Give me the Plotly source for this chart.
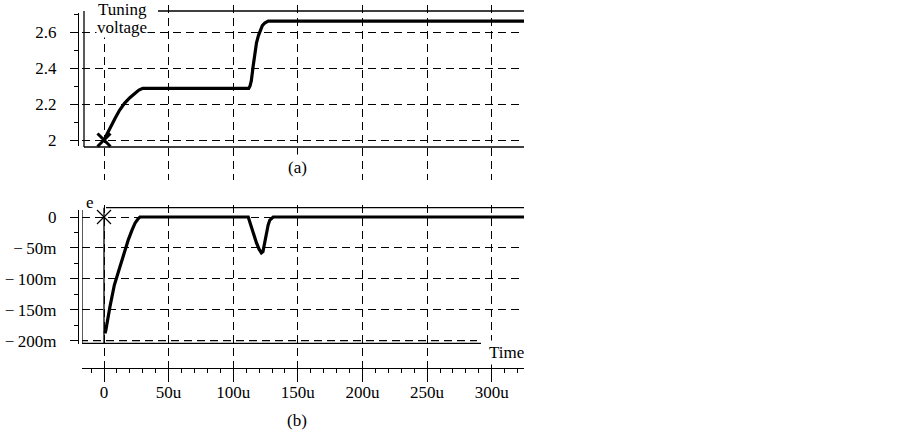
import plotly.graph_objects as go

W, H = 903, 433

time_ticks = [0, 50, 100, 150, 200, 250, 300]
time_labels = ["0", "50u", "100u", "150u", "200u", "250u", "300u"]

volt_ticks = [2.0, 2.2, 2.4, 2.6]
volt_labels = ["2", "2.2", "2.4", "2.6"]
volt_minor = [2.1, 2.3, 2.5, 2.7]

err_ticks = [0, -0.05, -0.1, -0.15, -0.2]
err_labels = ["0", "\u2212\u200950m", "\u2212\u2009100m", "\u2212\u2009150m", "\u2212\u2009200m"]
err_minor = [-0.025, -0.075, -0.125, -0.175]
err_grid = [0, -0.05, -0.1, -0.15]

# (a) tuning voltage vs time (time in u)
time_a = [0, 4, 8.5, 12, 16, 20, 24, 27, 30, 112, 113, 114, 115.4, 117, 118,
          119.5, 120.6, 122.5, 124.4, 127, 325]
volt_a = [2.0, 2.06, 2.12, 2.165, 2.205, 2.235, 2.26, 2.277, 2.287, 2.287, 2.30,
          2.33, 2.41, 2.49, 2.54, 2.58, 2.60, 2.635, 2.65, 2.66, 2.66]

# (b) error signal e vs time
time_b = [0.8, 1.5, 4.6, 8, 12.4, 15.5, 18.8, 21.5, 24, 26, 27.8, 111.6, 112.8,
          114, 115.4, 117, 118, 120, 121.8, 123, 124.5, 125.7, 127, 128.3, 130.9, 325]
err_b = [-0.188, -0.182, -0.145, -0.11, -0.08, -0.058, -0.037, -0.022, -0.01,
         -0.004, 0, 0, -0.008, -0.018, -0.026, -0.036, -0.042, -0.052, -0.058,
         -0.056, -0.04, -0.026, -0.013, -0.005, 0, 0]

FONT = "Liberation Serif"
INK = "black"


def fx(p):
    return p / W


def fy(p):
    return 1 - p / H


def tval(p):
    # pixel column -> time value
    return (p - 104) / 1.2924


def va(p):
    # pixel row -> panel (a) voltage
    return 2.0 + (140 - p) / 180


def vb(p):
    # pixel row -> panel (b) error
    return (217 - p) / 618.5


x_range = [tval(82), tval(524)]
x_dom = [fx(82), fx(524)]
font = dict(family=FONT, size=17, color=INK)

fig = go.Figure()

fig.add_trace(go.Scatter(x=time_a, y=volt_a, mode="lines",
                         line=dict(color=INK, width=3.2), xaxis="x", yaxis="y"))
fig.add_trace(go.Scatter(x=time_a[:1], y=volt_a[:1], mode="markers", cliponaxis=False,
                         marker=dict(symbol="x-thin", size=13, line=dict(width=3, color=INK)),
                         xaxis="x", yaxis="y"))
fig.add_trace(go.Scatter(x=time_b, y=err_b, mode="lines",
                         line=dict(color=INK, width=3.2), xaxis="x2", yaxis="y2"))
fig.add_trace(go.Scatter(x=[0], y=[0], mode="markers", cliponaxis=False,
                         marker=dict(symbol="x-thin", size=14, line=dict(width=1.2, color=INK)),
                         xaxis="x2", yaxis="y2"))
# empty traces so the visible tick axes get their own subplots
fig.add_trace(go.Scatter(x=[], y=[], xaxis="x3", yaxis="y3"))
fig.add_trace(go.Scatter(x=[], y=[], xaxis="x4", yaxis="y4"))

grid = dict(showgrid=True, griddash="8px,5px", gridcolor=INK, gridwidth=1.3,
            zeroline=False, showline=False, ticks="", showticklabels=False,
            automargin=False)
bare = dict(showgrid=False, zeroline=False, showline=False, ticks="", showticklabels=False,
            automargin=False)
tick_axis = dict(showline=True, linecolor=INK, linewidth=1.3, ticks="outside", ticklen=8,
                 tickwidth=1.3, tickcolor=INK, showgrid=False, zeroline=False,
                 tickfont=font, automargin=False)
minor = dict(ticks="outside", ticklen=4, tickwidth=1.3, tickcolor=INK)

fig.update_layout(
    template="none",
    width=W, height=H, autosize=False,
    margin=dict(l=0, r=0, t=0, b=0, pad=0),
    paper_bgcolor="white", plot_bgcolor="rgba(0,0,0,0)",
    showlegend=False,
    font=font,
    # grid subplots
    xaxis=dict(domain=x_dom, range=x_range, anchor="y", tickvals=time_ticks, **grid),
    yaxis=dict(domain=[fy(180), fy(5)], range=[va(180), va(5)], anchor="x",
               tickvals=volt_ticks, **grid),
    xaxis2=dict(domain=x_dom, range=x_range, anchor="y2", tickvals=time_ticks, **grid),
    yaxis2=dict(domain=[fy(385), fy(205)], range=[vb(385), vb(205)], anchor="x2",
                tickvals=err_grid, **grid),
    # visible tick axes
    xaxis3=dict(domain=x_dom, range=x_range, anchor="y3", **bare),
    yaxis3=dict(domain=[fy(146), fy(13)], range=[va(146), va(13)], anchor="free",
                position=fx(78), side="left", tickvals=volt_ticks, ticktext=volt_labels,
                ticklabelstandoff=10, minor=dict(tickvals=volt_minor, **minor), **tick_axis),
    xaxis4=dict(domain=x_dom, range=x_range, anchor="free", position=fy(368), side="bottom",
                tickvals=time_ticks, ticktext=time_labels, ticklabelstandoff=0,
                minor=dict(dtick=10, tick0=0, **minor), **tick_axis),
    yaxis4=dict(domain=[fy(344), fy(210)], range=[vb(344), vb(210)], anchor="free",
                position=fx(78), side="left", tickvals=err_ticks, ticktext=err_labels,
                ticklabelstandoff=10, minor=dict(tickvals=err_minor, **minor), **tick_axis),
)

thin = dict(color=INK, width=1.3)
frame = [
    # panel (a) box
    dict(xref="x", yref="y", x0=tval(158), x1=tval(524), y0=va(11), y1=va(11)),
    dict(xref="x", yref="y", x0=tval(84), x1=tval(524), y0=va(147), y1=va(147)),
    dict(xref="x", yref="y", x0=tval(84), x1=tval(84), y0=va(11), y1=va(147)),
    # panel (b) box
    dict(xref="x2", yref="y2", x0=tval(106), x1=tval(524), y0=vb(207.7), y1=vb(207.7)),
    dict(xref="x2", yref="y2", x0=tval(82), x1=tval(481), y0=vb(343.3), y1=vb(343.3)),
    dict(xref="x2", yref="y2", x0=tval(82), x1=tval(82), y0=vb(210), y1=vb(344)),
    dict(xref="x2", yref="y2", x0=0, x1=0, y0=vb(207.7), y1=vb(343)),
]
for s in frame:
    fig.add_shape(type="line", line=thin, **s)
fig.add_shape(type="line", xref="x2", yref="y2", x0=tval(80), x1=tval(477),
              y0=err_ticks[-1], y1=err_ticks[-1], line=dict(color=INK, width=1.3, dash="8px,5px"))

# "voltage" goes first so "Tuning" (drawn later) keeps its descender
notes = [
    ("voltage", 122, 27, 0),
    ("Tuning", 122, 9, 0),
    ("(a)", 297, 167, 3),
    ("(b)", 297, 420, 2),
    ("Time", 506, 352, 2),
    ("e", 90, 202, None),
]
for text, x, y, pad in notes:
    fig.add_annotation(text=text, xref="paper", yref="paper", x=fx(x), y=fy(y),
                       showarrow=False, font=font, borderpad=pad or 0,
                       bgcolor="rgba(0,0,0,0)" if pad is None else "white",
                       xanchor="center", yanchor="middle")

# page body margin would push the fixed-size figure off by 8px
fig.write_html("out.html", config={"displayModeBar": False},
               post_script="document.body.style.margin = '0';")
